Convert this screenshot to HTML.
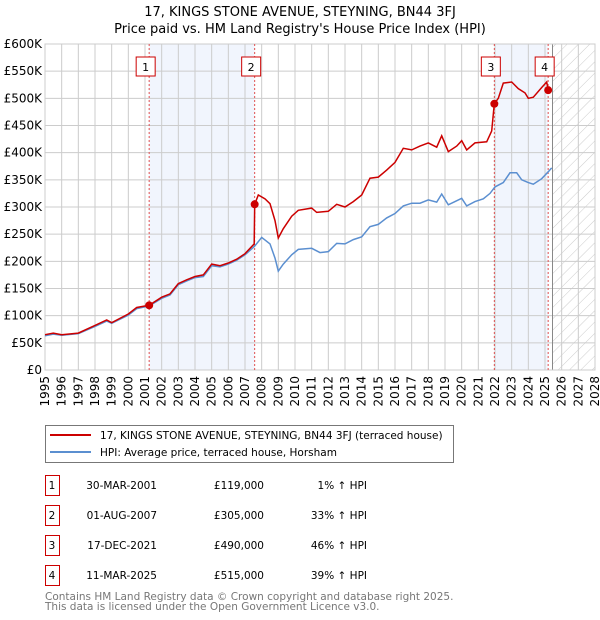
<!DOCTYPE html>
<html><head><meta charset="utf-8"><style>
body{margin:0;background:#fff;font-family:"DejaVu Sans","Liberation Sans",sans-serif;}
svg{display:block}
</style></head><body>
<svg id="c" width="600" height="620" xmlns="http://www.w3.org/2000/svg" font-family="DejaVu Sans, Liberation Sans, sans-serif">
<defs><pattern id="hatch" width="8" height="8" patternUnits="userSpaceOnUse" patternTransform="rotate(45)"><line x1="0" y1="0" x2="0" y2="8" stroke="#ccc" stroke-width="1"/></pattern></defs>
<text x="300" y="16" text-anchor="middle" font-size="13" fill="#000">17, KINGS STONE AVENUE, STEYNING, BN44 3FJ</text>
<text x="300" y="33" text-anchor="middle" font-size="13" fill="#000">Price paid vs. HM Land Registry's House Price Index (HPI)</text>
<g id="plot"></g>
<g>
<rect x="45.5" y="425.5" width="408" height="37" fill="#fff" stroke="#777"/>
<line x1="50" y1="435" x2="91" y2="435" stroke="#cc0000" stroke-width="2"/>
<text x="100" y="439" font-size="10.5">17, KINGS STONE AVENUE, STEYNING, BN44 3FJ (terraced house)</text>
<line x1="50" y1="452" x2="91" y2="452" stroke="#5b8fd0" stroke-width="2"/>
<text x="100" y="456" font-size="10.5">HPI: Average price, terraced house, Horsham</text>
</g>
<g id="tbl"></g>
<text x="45" y="600" font-size="10.5" fill="#777">Contains HM Land Registry data © Crown copyright and database right 2025.</text>
<text x="45" y="610" font-size="10.5" fill="#777">This data is licensed under the Open Government Licence v3.0.</text>
</svg>
<script>
const hpiYears=[1995,1995.5,1996,1997,1998,1998.7,1999,2000,2000.5,2001.25,2002,2002.5,2003,2003.5,2004,2004.5,2005,2005.5,2006,2006.5,2007,2007.58,2008,2008.5,2008.8,2009,2009.3,2009.8,2010.2,2011,2011.5,2012,2012.5,2013,2013.5,2014,2014.5,2015,2015.5,2016,2016.5,2017,2017.5,2018,2018.5,2018.8,2019.2,2019.6,2020,2020.3,2020.8,2021.3,2021.7,2022,2022.5,2022.9,2023.3,2023.6,2024,2024.3,2024.8,2025.2,2025.4];
const hpiValues=[63,66,64,67,80,90,86,101,113,118,132,138,157,164,170,172,192,190,195,202,212,228,244,232,206,182,195,212,222,224,216,218,233,232,240,245,264,268,280,288,302,307,307,313,309,324,304,310,316,302,310,315,325,337,345,363,363,350,345,342,352,365,372];
const propYears=[1995,1995.5,1996,1997,1998,1998.7,1999,2000,2000.5,2001.25,2002,2002.5,2003,2003.5,2004,2004.5,2005,2005.5,2006,2006.5,2007,2007.55,2007.58,2007.8,2008.2,2008.5,2008.8,2009,2009.3,2009.8,2010.2,2011,2011.3,2012,2012.5,2013,2013.5,2014,2014.5,2015,2015.5,2016,2016.5,2017,2017.5,2018,2018.5,2018.8,2019.2,2019.7,2020,2020.3,2020.8,2021.5,2021.8,2021.96,2022.2,2022.5,2023,2023.4,2023.8,2024,2024.3,2024.8,2025.1,2025.19,2025.4];
const propValues=[65,68,65,68,82,92,87,103,115,119,134,140,159,166,172,175,195,192,197,204,214,232,305,322,315,306,275,243,260,283,294,298,290,292,305,300,310,322,353,355,368,382,408,405,412,418,410,431,402,412,422,405,418,420,440,490,500,528,530,518,510,500,502,520,530,515,517];
const saleYears=[2001.25,2007.58,2021.96,2025.19];
const saleValues=[119,305,490,515];
const saleLabels=["1","2","3","4"];
const saleDates=["30-MAR-2001","01-AUG-2007","17-DEC-2021","11-MAR-2025"];
const salePrices=["£119,000","£305,000","£490,000","£515,000"];
const salePcts=["1% ↑ HPI","33% ↑ HPI","46% ↑ HPI","39% ↑ HPI"];
const yTicks=[0,50,100,150,200,250,300,350,400,450,500,550,600];
const yTickLabels=["£0","£50K","£100K","£150K","£200K","£250K","£300K","£350K","£400K","£450K","£500K","£550K","£600K"];
const xTicks=[1995,1996,1997,1998,1999,2000,2001,2002,2003,2004,2005,2006,2007,2008,2009,2010,2011,2012,2013,2014,2015,2016,2017,2018,2019,2020,2021,2022,2023,2024,2025,2026,2027,2028];
const dataEnd=2025.45;

const X0=45,X1=595,Y0=370,Y1=44;
const xs=y=>X0+(y-1995)/(2028-1995)*(X1-X0);
const ys=v=>Y0-v/600*(Y0-Y1);
const NS="http://www.w3.org/2000/svg";
const plot=document.getElementById('plot');
function el(tag,attrs,parent){const e=document.createElementNS(NS,tag);for(const k in attrs)e.setAttribute(k,attrs[k]);(parent||plot).appendChild(e);return e;}

el('rect',{x:X0,y:Y1,width:X1-X0,height:Y0-Y1,fill:'#fff'});
for(const [a,b] of [[0,1],[2,3]]){
  const r=el('rect',{x:xs(saleYears[a]),y:Y1,width:xs(saleYears[b])-xs(saleYears[a]),height:Y0-Y1,fill:'#eef3fc',opacity:0.8});
  
  
}
const h=el('rect',{x:xs(dataEnd),y:Y1,width:X1-xs(dataEnd),height:Y0-Y1,fill:'url(#hatch)'});


yTicks.forEach((t,i)=>{
  el('line',{x1:X0,x2:X1,y1:ys(t),y2:ys(t),stroke:'#ccc','stroke-width':1});
  const tx=el('text',{x:X0-3,y:ys(t)+4,'text-anchor':'end','font-size':12,fill:'#000'});
  tx.textContent=yTickLabels[i];
  
  
});
xTicks.forEach(t=>{
  el('line',{x1:xs(t),x2:xs(t),y1:Y1,y2:Y0,stroke:'#ccc','stroke-width':1});
  const tx=el('text',{x:0,y:0,'text-anchor':'end','font-size':12,fill:'#000',transform:`translate(${xs(t)+4},${Y0+6}) rotate(-90)`});
  tx.textContent=t;
  
  
});
el('line',{x1:xs(dataEnd),x2:xs(dataEnd),y1:Y1,y2:Y0,stroke:'#888','stroke-width':1});
el('rect',{x:X0,y:Y1,width:X1-X0,height:Y0-Y1,fill:'none',stroke:'#ccc'});
saleYears.forEach(s=>{
  el('line',{x1:xs(s),x2:xs(s),y1:Y1,y2:Y0,stroke:'#e05050','stroke-width':1,'stroke-dasharray':'2,2'});
});
const hp=el('path',{d:hpiYears.map((y,i)=>(i?'L':'M')+xs(y).toFixed(1)+','+ys(hpiValues[i]).toFixed(1)).join(''),fill:'none',stroke:'#5b8fd0','stroke-width':1.5});


const pp=el('path',{d:propYears.map((y,i)=>(i?'L':'M')+xs(y).toFixed(1)+','+ys(propValues[i]).toFixed(1)).join(''),fill:'none',stroke:'#cc0000','stroke-width':1.5});


saleYears.forEach((s,i)=>{
  const c=el('circle',{cx:xs(s),cy:ys(saleValues[i]),r:4,fill:'#cc0000'});
  
  
  const bx=xs(s)-3;
  const b=el('rect',{x:bx-10,y:57,width:19,height:19,fill:'#fff',stroke:'#cc0000'});
  
  
  const t=el('text',{x:bx-0.5,y:71,'text-anchor':'middle','font-size':11});
  t.textContent=saleLabels[i];
  
  
});
const tbl=document.getElementById('tbl');
saleLabels.forEach((l,i)=>{
  const y0=475+i*30;
  const b=el('rect',{x:45.5,y:y0+0.5,width:14,height:20,fill:'#fff',stroke:'#cc0000'},tbl);
  
  
  const cols=[[52,l,'middle'],[157,saleDates[i],'end'],[264,salePrices[i],'end'],[367,salePcts[i],'end']];
  cols.forEach(([x,txt,a],j)=>{
    const t=el('text',{x:x,y:y0+14,'text-anchor':a,'font-size':10.5},tbl);
    t.textContent=txt;
    
    
  });
});
</script>
</body></html>
